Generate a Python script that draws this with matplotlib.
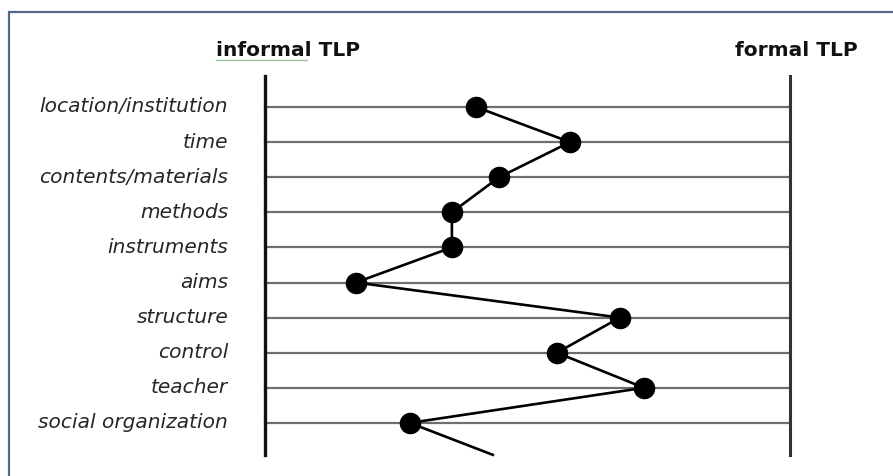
import matplotlib
matplotlib.use("Agg")
import matplotlib.pyplot as plt
from matplotlib.patches import Rectangle

# categories from top to bottom, position 0 = informal, 100 = formal
categories = ["location/institution", "time", "contents/materials", "methods",
              "instruments", "aims", "structure", "control", "teacher",
              "social organization"]
positions = [40.2, 58.1, 44.6, 35.6, 35.6, 17.3, 67.6, 55.6, 72.2, 27.6]
# line continues past the last row
tail_pos = 43.4
tail_row = 9.91

plt.rcParams['font.family'] = ['DejaVu Sans']

fig = plt.figure(figsize=(8.93, 4.76), dpi=100)
ax = fig.add_axes([0, 0, 1, 1])
ax.set_xlim(-265 / 5.25, (893 - 265) / 5.25)
ax.set_ylim((476 - 107) / 35.1, -107 / 35.1)
ax.axis("off")

# frame around the picture (runs off right and bottom)
fig.patches.append(Rectangle((9 / 893, -0.05), 1.1, (476 - 12) / 476 + 0.05,
                             transform=fig.transFigure, fill=False,
                             edgecolor="#56688a", linewidth=1.6))

rows = list(range(len(categories)))
for i, name in enumerate(categories):
    ax.plot([0, 100], [i, i], color="#6e6e6e", linewidth=1.6, zorder=1)
    ax.text(-7.0, i, name, ha="right", va="center", style="italic",
            fontsize=14.5, color="#262626")

ax.plot([0, 0], [-0.88, 9.91], color="#111111", linewidth=2.4, zorder=2)
ax.plot([100, 100], [-0.88, 9.91], color="#333333", linewidth=2.2, zorder=2)

ax.plot(positions + [tail_pos], rows + [tail_row], color="black",
        linewidth=1.9, zorder=3)
ax.plot(positions, rows, "o", color="black", markersize=14.5, zorder=4)

ax.text(4.4, -1.62, "informal TLP", ha="center", va="center",
        fontweight="bold", fontsize=14.5, color="#111111")
ax.text(101.3, -1.62, "formal TLP", ha="center", va="center",
        fontweight="bold", fontsize=14.5, color="#111111")
# spell-check underline under "informal"
ax.plot([-9.3, 8.0], [-1.34, -1.34], color="#9cc79c", linewidth=1.0)

fig.savefig("out.png", dpi=100)
